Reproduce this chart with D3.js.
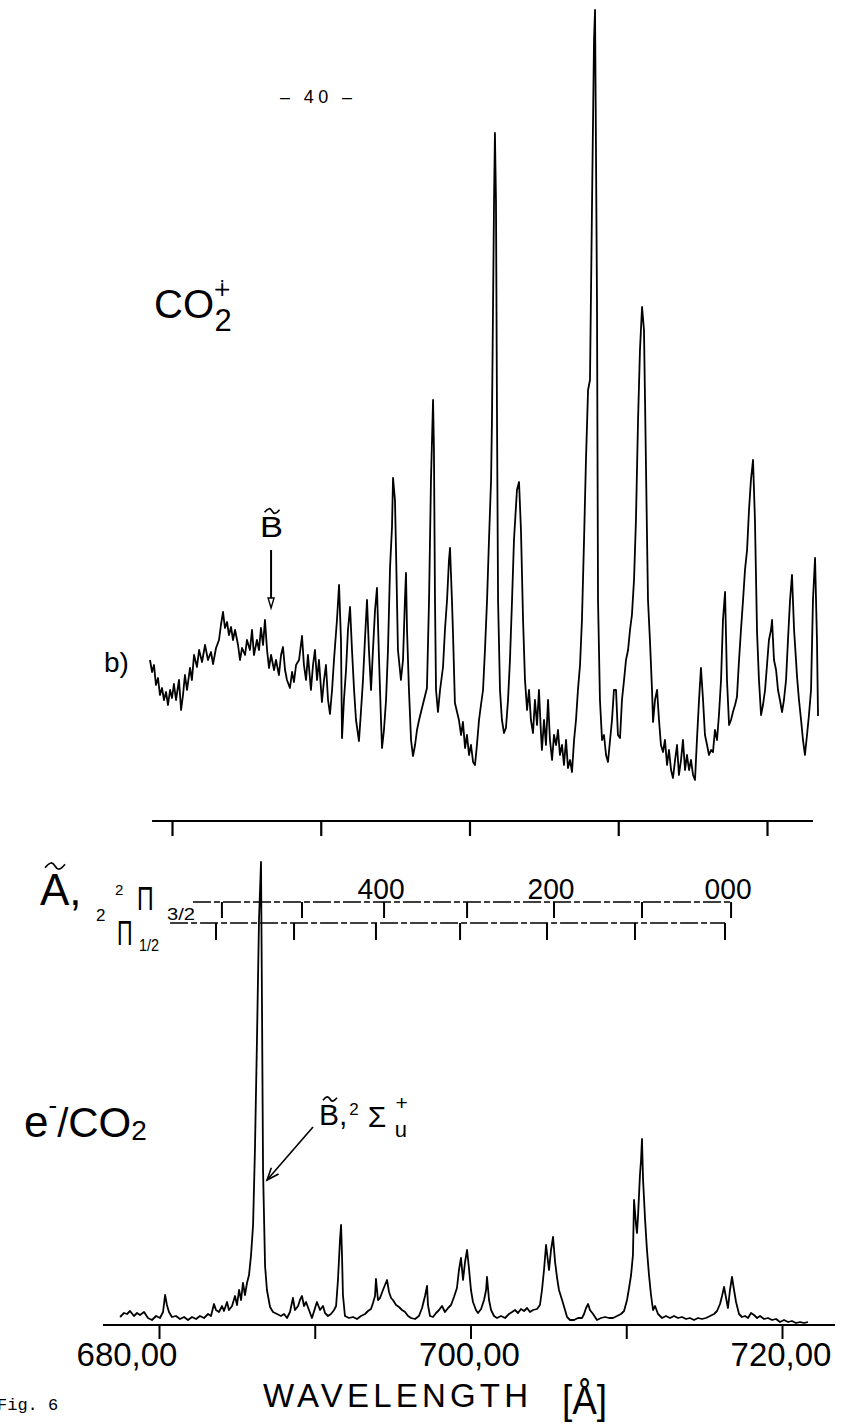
<!DOCTYPE html>
<html><head><meta charset="utf-8">
<script src="https://cdn.jsdelivr.net/npm/d3@7"></script>
<style>html,body{margin:0;padding:0;background:#fff;} svg{display:block;background:#fff;}</style>
</head><body>
<svg id="chart" width="852" height="1425"></svg>
<script>
// ---------- DATA ----------
// b) CO2+ fluorescence spectrum: [wavelength (Å), intensity (arb.)]
const topSpectrum = [[678.52,65],[678.66,59],[678.79,62.5],[678.92,52.5],[679.06,56],[679.19,47.5],[679.33,51],[679.46,45],[679.60,49],[679.73,42.5],[679.87,50],[680.00,46],[680.13,53],[680.27,45],[680.47,55],[680.61,40],[680.74,47.5],[680.87,57.5],[681.01,50],[681.21,61],[681.34,55],[681.48,67.5],[681.68,61.5],[681.82,70],[682.02,64],[682.22,72.5],[682.42,65],[682.62,69],[682.76,63],[682.96,71],[683.16,75],[683.29,82.5],[683.43,89],[683.56,81],[683.70,84],[683.83,77.5],[683.97,81.5],[684.10,75],[684.24,80],[684.44,72.5],[684.57,65],[684.71,71],[684.91,67.5],[685.04,75],[685.24,70],[685.38,80],[685.51,67.5],[685.71,75],[685.85,70],[685.98,81],[686.12,72.5],[686.25,85],[686.39,70],[686.52,61],[686.66,67.5],[686.86,60],[686.99,65],[687.19,57.5],[687.33,67.5],[687.46,71.5],[687.60,60],[687.73,55],[687.93,51],[688.07,59],[688.20,54],[688.34,62.5],[688.54,65],[688.74,77],[688.87,62.5],[689.01,55],[689.14,67.5],[689.34,50],[689.48,62.5],[689.61,70],[689.75,55],[689.88,65],[690.08,44],[690.22,55],[690.35,62.5],[690.49,45],[690.62,38],[690.76,50],[690.89,65],[691.09,85],[691.23,102.5],[691.36,75],[691.43,26],[691.56,45],[691.70,60],[691.83,80],[691.97,91.5],[692.10,70],[692.24,50],[692.37,35],[692.57,24.5],[692.71,40],[692.84,55],[692.97,75],[693.11,95],[693.24,70],[693.38,50],[693.51,70],[693.65,90],[693.78,101],[693.92,65],[694.05,35],[694.12,21],[694.25,30],[694.39,45],[694.52,70],[694.66,111.5],[694.79,131.5],[694.86,156],[694.99,145],[695.06,120],[695.19,70],[695.39,55],[695.53,65],[695.66,95],[695.73,108.5],[695.80,80],[695.93,50],[696.07,25],[696.20,17],[696.34,22.5],[696.47,30],[696.61,35],[696.74,39],[696.94,45],[697.14,51],[697.28,95],[697.41,155],[697.55,195],[697.61,170],[697.68,95],[697.75,50],[697.88,39],[698.02,50],[698.22,61.5],[698.35,80],[698.49,95],[698.62,115],[698.69,121],[698.82,95],[698.89,78.5],[699.02,43.5],[699.29,35],[699.43,27.5],[699.56,34],[699.70,21],[699.83,27.5],[699.97,17.5],[700.10,22.5],[700.24,14],[700.37,12.5],[700.50,22.5],[700.64,35],[700.77,42.5],[700.91,50],[701.04,70],[701.18,95],[701.31,125],[701.45,155],[701.51,185],[701.65,295],[701.71,328.5],[701.78,295],[701.85,185],[701.92,95],[702.05,50],[702.18,35],[702.32,28.5],[702.45,31],[702.59,45],[702.72,65],[702.86,95],[702.99,125],[703.19,150],[703.33,154],[703.46,130],[703.60,85],[703.73,55],[703.87,40],[704.00,50],[704.13,35],[704.27,28.5],[704.40,45],[704.54,32.5],[704.67,50],[704.81,27.5],[704.87,20],[705.01,35],[705.14,22.5],[705.28,45],[705.41,25],[705.55,15],[705.68,27.5],[705.82,22.5],[705.95,30],[706.08,17.5],[706.22,22.5],[706.35,12.5],[706.49,25],[706.62,11],[706.76,15],[706.89,9],[707.03,25],[707.16,35],[707.29,50],[707.43,62.5],[707.56,85],[707.70,125],[707.83,165],[707.97,200],[708.10,205],[708.24,295],[708.37,375],[708.44,390],[708.57,245],[708.64,95],[708.77,45],[708.91,25],[709.04,27.5],[709.18,17.5],[709.31,14],[709.45,25],[709.58,35],[709.71,50],[709.85,50],[709.98,27.5],[710.12,26],[710.25,45],[710.39,55],[710.52,65],[710.66,70],[710.79,80],[710.92,87.5],[711.06,105],[711.19,135],[711.33,185],[711.46,220],[711.60,241.5],[711.73,230],[711.80,195],[711.93,128.5],[712.00,95],[712.13,75],[712.27,50],[712.34,34],[712.47,45],[712.61,50],[712.74,35],[712.87,22.5],[713.01,19],[713.14,25],[713.28,12.5],[713.41,20],[713.55,10],[713.68,6],[713.82,15],[713.95,22.5],[714.08,7.5],[714.22,15],[714.35,25],[714.49,10],[714.62,17.5],[714.76,10],[714.89,15],[715.03,7.5],[715.16,5],[715.29,25],[715.43,45],[715.56,61],[715.70,45],[715.83,27.5],[715.97,22.5],[716.10,17.5],[716.24,20],[716.37,19],[716.50,30],[716.64,25],[716.77,37.5],[716.91,55],[717.04,85],[717.18,99],[717.31,55],[717.45,32.5],[717.58,35],[717.71,39],[717.85,42.5],[717.98,46.5],[718.12,65],[718.25,80],[718.39,95],[718.52,110],[718.66,120],[718.79,140],[718.92,155],[719.06,165],[719.19,135],[719.33,79],[719.46,55],[719.60,37.5],[719.73,42.5],[719.87,50],[720.00,62.5],[720.13,75],[720.27,80],[720.34,85],[720.47,65],[720.61,60],[720.74,50],[720.87,45],[721.01,39],[721.14,45],[721.28,55],[721.41,75],[721.55,95],[721.68,107.5],[721.82,80],[721.95,65],[722.02,56.5],[722.15,45],[722.29,35],[722.42,25],[722.55,17.5],[722.69,27.5],[722.82,37.5],[722.96,50],[723.09,95],[723.23,116],[723.36,75],[723.43,37]];

// e-/CO2 emission spectrum: [wavelength (Å), intensity (arb.)]
const bottomSpectrum = [[677.50,4],[677.75,6],[677.95,5.5],[678.14,7],[678.39,4.5],[678.59,6],[678.78,5],[679.04,6.5],[679.29,3.5],[679.55,2.5],[679.81,4.5],[680.06,3.5],[680.26,6.5],[680.39,15],[680.51,10],[680.64,6.5],[680.83,4],[681.09,4.5],[681.35,3],[681.61,4],[681.86,2.5],[682.12,4],[682.38,3],[682.63,4.5],[682.89,3.5],[683.15,5.5],[683.34,4.5],[683.53,10.5],[683.66,7.5],[683.85,6.5],[684.05,9.5],[684.17,7],[684.37,11.5],[684.49,7.5],[684.69,9.5],[684.88,14.5],[685.01,10],[685.14,17.5],[685.27,12.5],[685.39,21],[685.52,15],[685.65,21],[685.78,25],[685.91,35],[686.04,50],[686.16,87.5],[686.29,142.5],[686.42,202.5],[686.55,231.5],[686.61,162.5],[686.68,77.5],[686.81,29.5],[686.93,17.5],[687.13,9],[687.32,6.5],[687.58,5.5],[687.83,4.5],[688.03,5.5],[688.22,3.5],[688.41,6.5],[688.60,13.5],[688.73,7.5],[688.93,9.5],[689.05,12.5],[689.18,14.5],[689.31,9.5],[689.44,11.5],[689.63,7.5],[689.82,3.5],[690.02,8.5],[690.14,11.5],[690.34,7.5],[690.53,9.5],[690.66,6],[690.85,4.5],[691.04,5.5],[691.24,7.5],[691.37,9.5],[691.49,22.5],[691.62,42.5],[691.69,50],[691.75,35],[691.81,15],[691.94,4.5],[692.20,3.5],[692.46,4],[692.71,3],[692.97,4.5],[693.23,5.5],[693.42,7],[693.61,8],[693.74,11],[693.87,14.5],[693.93,23],[694.06,12.5],[694.19,13.5],[694.38,17.5],[694.51,20],[694.64,22.5],[694.77,16.5],[694.90,13.5],[695.02,12.5],[695.22,10],[695.41,9],[695.60,7.5],[695.80,6.5],[695.99,4.5],[696.18,3.5],[696.44,3],[696.69,4.5],[696.89,8.5],[697.08,14.5],[697.21,19.5],[697.27,10],[697.40,4.5],[697.59,4],[697.79,6],[697.98,7.5],[698.17,9.5],[698.36,6.5],[698.56,8.5],[698.75,10],[698.94,14],[699.13,18.5],[699.26,27.5],[699.39,33.5],[699.52,22.5],[699.65,31.5],[699.78,37.5],[699.90,28.5],[700.03,17.5],[700.16,11.5],[700.35,7.5],[700.48,6],[700.68,8],[700.87,12.5],[701.00,17.5],[701.06,24],[701.19,12.5],[701.32,7.5],[701.51,4.5],[701.70,3.5],[701.96,4.5],[702.22,3.5],[702.47,5.5],[702.67,6.5],[702.86,7.5],[703.05,6],[703.24,8],[703.44,7],[703.63,8.5],[703.82,6.5],[704.01,7.5],[704.27,8],[704.46,10],[704.59,17.5],[704.72,27.5],[704.85,40],[704.98,31.5],[705.04,27.5],[705.17,37.5],[705.30,44],[705.43,31.5],[705.56,23.5],[705.68,17.5],[705.88,12.5],[706.07,7.5],[706.20,4],[706.39,2.5],[706.65,2.5],[706.90,3.5],[707.16,3.5],[707.29,5.5],[707.42,8.5],[707.55,10.5],[707.67,7.5],[707.87,5.5],[708.12,2.5],[708.38,3.5],[708.64,4],[708.89,3.5],[709.15,3.5],[709.41,4.5],[709.66,5.5],[709.86,7],[710.05,12.5],[710.18,18.5],[710.31,25],[710.43,35],[710.50,62.5],[710.63,50],[710.69,46],[710.76,55],[710.88,75],[710.95,82.5],[711.01,93],[711.08,72.5],[711.21,52.5],[711.33,37.5],[711.46,25],[711.59,15],[711.72,7.5],[711.85,9.5],[712.04,5.5],[712.30,3.5],[712.55,4.5],[712.81,3.5],[713.07,4.5],[713.32,3.5],[713.58,4],[713.84,3],[714.09,3.5],[714.35,2.5],[714.61,3.5],[714.86,3],[715.12,3.5],[715.38,4.5],[715.64,5.5],[715.83,7],[716.02,10.5],[716.15,14.5],[716.28,19],[716.41,13.5],[716.53,8.5],[716.66,17.5],[716.79,24],[716.92,17.5],[717.05,11.5],[717.24,5.5],[717.43,4],[717.63,4.5],[717.82,3.5],[718.01,6],[718.20,5],[718.40,3.5],[718.59,4.5],[718.85,3],[719.10,3.5],[719.36,2.5],[719.62,3],[719.87,1.5],[720.13,2.5],[720.39,1.5],[720.64,2],[720.90,1],[721.16,1.5],[721.41,1],[721.67,1.5]];

const axisTicks = [680, 690, 700, 710, 720];
const bottomLabelValues = [680, 700, 720];
const bottomLabelTexts = ["680,00", "700,00", "720,00"];
const topAxisExtent = [678.66, 723.09];
const bottomAxisExtent = [676.40, 723.40];

// Ã 2Π vibrational progressions (Å)
const vibLevels = ["600", "500", "400", "300", "200", "100", "000"];
const vibShown = ["400", "200", "000"];
const pi32Positions = [684.04, 689.18, 694.45, 699.78, 705.36, 711.01, 716.73];
const pi12Positions = [683.66, 688.67, 693.93, 699.33, 704.91, 710.56, 716.34];
const pi32Start = 682.18;
const pi12Start = 680.71;

const bArrowTop = 686.66;     // B̃ marker on CO2+ spectrum
const bPeakBottom = 686.68;   // B̃ 2Σu+ peak

// ---------- SCALES ----------
const svg = d3.select("#chart");
const SANS = "'Liberation Sans', Arial, sans-serif";
const xTop = d3.scaleLinear().domain([680, 720]).range([172, 767]);
const yTop = d3.scaleLinear().domain([0, 390]).range([790, 10]);
const xBot = d3.scaleLinear().domain([680, 720]).range([159, 782]);
const yBot = d3.scaleLinear().domain([0, 232.5]).range([1325, 860]);

svg.append("rect").attr("width", 852).attr("height", 1425).attr("fill", "#fff");

// ---------- SPECTRA ----------
svg.append("path").datum(topSpectrum)
  .attr("fill", "none").attr("stroke", "#000").attr("stroke-width", 1.8)
  .attr("stroke-linejoin", "round")
  .attr("d", d3.line().x(d => xTop(d[0])).y(d => yTop(d[1])));

svg.append("path").datum(bottomSpectrum)
  .attr("fill", "none").attr("stroke", "#000").attr("stroke-width", 1.8)
  .attr("stroke-linejoin", "round")
  .attr("d", d3.line().x(d => xBot(d[0])).y(d => yBot(d[1])));

// ---------- AXES ----------
const topAxisY = 821, botAxisY = 1325;
svg.append("line").attr("x1", xTop(topAxisExtent[0])).attr("x2", xTop(topAxisExtent[1]))
  .attr("y1", topAxisY).attr("y2", topAxisY).attr("stroke", "#000").attr("stroke-width", 2.2);
const gTop = svg.append("g").attr("transform", `translate(0,${topAxisY})`)
  .call(d3.axisBottom(xTop).tickValues(axisTicks).tickSize(15).tickSizeOuter(0).tickFormat(""));
gTop.select(".domain").remove();
gTop.selectAll(".tick line").attr("stroke", "#000").attr("stroke-width", 2.2);

svg.append("line").attr("x1", xBot(bottomAxisExtent[0])).attr("x2", xBot(bottomAxisExtent[1]))
  .attr("y1", botAxisY).attr("y2", botAxisY).attr("stroke", "#000").attr("stroke-width", 2);
const gBot = svg.append("g").attr("transform", `translate(0,${botAxisY})`)
  .call(d3.axisBottom(xBot).tickValues(axisTicks).tickSize(14).tickSizeOuter(0).tickFormat(""));
gBot.select(".domain").remove();
gBot.selectAll(".tick line").attr("stroke", "#000").attr("stroke-width", 2);

svg.selectAll("text.xlab").data(bottomLabelValues).enter().append("text")
  .attr("class", "xlab")
  .attr("x", d => xBot(d)).attr("dx", (d, i) => i === 0 ? -32 : -1)
  .attr("y", 1366).attr("text-anchor", "middle")
  .attr("font-family", SANS).attr("font-size", 33)
  .text((d, i) => bottomLabelTexts[i]);

svg.append("text").attr("x", 263).attr("y", 1407)
  .attr("font-family", SANS).attr("font-size", 33)
  .attr("textLength", 265).attr("lengthAdjust", "spacing").text("WAVELENGTH");
svg.append("text").attr("x", 562).attr("y", 1414)
  .attr("font-family", SANS).attr("font-size", 40)
  .attr("textLength", 45).attr("lengthAdjust", "spacingAndGlyphs").text("[Å]");

// ---------- Ã 2Π PROGRESSIONS ----------
const pi32Y = 902, pi12Y = 923;
svg.append("line").attr("x1", xBot(pi32Start)).attr("x2", xBot(pi32Positions[6]))
  .attr("y1", pi32Y).attr("y2", pi32Y).attr("stroke", "#000").attr("stroke-width", 1.6)
  .attr("stroke-dasharray", "18,3,6,3");
svg.append("line").attr("x1", xBot(pi12Start)).attr("x2", xBot(pi12Positions[6]))
  .attr("y1", pi12Y).attr("y2", pi12Y).attr("stroke", "#000").attr("stroke-width", 1.6)
  .attr("stroke-dasharray", "18,3,6,3");
svg.selectAll("line.t32").data(pi32Positions).enter().append("line").attr("class", "t32")
  .attr("x1", d => xBot(d)).attr("x2", d => xBot(d))
  .attr("y1", pi32Y).attr("y2", pi32Y + 16).attr("stroke", "#000").attr("stroke-width", 2);
svg.selectAll("line.t12").data(pi12Positions).enter().append("line").attr("class", "t12")
  .attr("x1", d => xBot(d)).attr("x2", d => xBot(d))
  .attr("y1", pi12Y).attr("y2", pi12Y + 17).attr("stroke", "#000").attr("stroke-width", 2);
svg.selectAll("text.vib").data(pi32Positions.filter((d, i) => vibShown.includes(vibLevels[i])))
  .enter().append("text").attr("class", "vib")
  .attr("x", d => xBot(d) - 3).attr("y", 899).attr("text-anchor", "middle")
  .attr("font-family", SANS).attr("font-size", 29)
  .attr("textLength", 47).attr("lengthAdjust", "spacingAndGlyphs")
  .text(d => vibLevels[pi32Positions.indexOf(d)]);

// helpers
function txt(x, y, s, size, extra) {
  const t = svg.append("text").attr("x", x).attr("y", y).attr("font-family", SANS)
    .attr("font-size", size).text(s);
  if (extra) extra(t);
  return t;
}
function tilde(cx, cy, w) {
  const h = w * 0.22;
  svg.append("path")
    .attr("d", `M${cx - w / 2},${cy + h * 0.4} C${cx - w / 4},${cy - h} ${cx - w / 8},${cy - h} ${cx},${cy} S${cx + w / 4},${cy + h} ${cx + w / 2},${cy - h * 0.4}`)
    .attr("fill", "none").attr("stroke", "#000").attr("stroke-width", 1.6);
}
function narrow(x, y, s, size, sx) {
  return svg.append("text").attr("transform", `translate(${x},${y}) scale(${sx},1)`)
    .attr("font-family", SANS).attr("font-size", size).text(s);
}

// state labels Ã, 2Π3/2, 2Π1/2
txt(40, 905, "A,", 44);
tilde(55, 866, 20);
txt(115, 895, "2", 15);
narrow(137, 910, "Π", 34, 0.68);
txt(167, 920, "3/2", 17, t => t.attr("textLength", 28).attr("lengthAdjust", "spacingAndGlyphs"));
txt(96, 921, "2", 17);
narrow(117, 945, "Π", 36, 0.6);
txt(139, 951, "1/2", 16, t => t.attr("textLength", 20).attr("lengthAdjust", "spacingAndGlyphs"));

// ---------- TOP LABELS ----------
txt(280, 103, "– 40 –", 18, t => t.attr("textLength", 72).attr("lengthAdjust", "spacing"));
{
  const t = svg.append("text").attr("x", 154).attr("y", 318).attr("font-family", SANS).attr("font-size", 40);
  t.append("tspan").text("CO");
  t.append("tspan").attr("dx", -1).attr("dy", -22).attr("font-size", 22)
    .attr("font-family", "'DejaVu Sans', sans-serif").text("∔");
  t.append("tspan").attr("dx", -17).attr("dy", 35).attr("font-size", 31).text("2");
}
txt(104, 672, "b)", 28);

// B̃ marker with arrow (top)
const bx = xTop(bArrowTop);
txt(bx - 11, 537, "B", 30, t => t.attr("textLength", 23).attr("lengthAdjust", "spacingAndGlyphs"));
tilde(bx + 1, 511, 15);
svg.append("line").attr("x1", bx).attr("x2", bx).attr("y1", 550).attr("y2", 599)
  .attr("stroke", "#000").attr("stroke-width", 2);
svg.append("path").attr("d", `M${bx - 3},598 L${bx + 3},598 L${bx},608 Z`)
  .attr("fill", "#fff").attr("stroke", "#000").attr("stroke-width", 1.4);

// ---------- BOTTOM LABELS ----------
{
  const t = svg.append("text").attr("x", 24).attr("y", 1137).attr("font-family", SANS).attr("font-size", 44);
  t.append("tspan").text("e");
  t.append("tspan").attr("dy", -23).attr("font-size", 26).text("-");
  t.append("tspan").attr("dy", 23).attr("font-size", 40).text("/");
  t.append("tspan").attr("font-size", 42).text("CO");
  t.append("tspan").attr("dy", 3).attr("font-size", 28).text("2");
}
{
  const t = svg.append("text").attr("x", 319).attr("y", 1125).attr("font-family", SANS).attr("font-size", 30);
  t.append("tspan").text("B,");
  t.append("tspan").attr("dx", 2).attr("dy", -10).attr("font-size", 17).text("2");
  t.append("tspan").attr("dx", 9).attr("dy", 12).attr("font-size", 30).text("Σ");
  t.append("tspan").attr("dx", 9).attr("dy", -17).attr("font-size", 21).text("+");
  t.append("tspan").attr("dx", -13).attr("dy", 27).attr("font-size", 22).text("u");
}
tilde(330, 1099, 14);

// arrow to B̃ 2Σu+ peak
const tipX = xBot(bPeakBottom) + 4, tipY = 1180;
const sx = 313, sy = 1127;
svg.append("line").attr("x1", sx).attr("y1", sy).attr("x2", tipX).attr("y2", tipY)
  .attr("stroke", "#000").attr("stroke-width", 1.6);
{
  const ang = Math.atan2(sy - tipY, sx - tipX);
  const L = 13, a = 0.38;
  const p1 = [tipX + L * Math.cos(ang + a), tipY + L * Math.sin(ang + a)];
  const p2 = [tipX + L * Math.cos(ang - a), tipY + L * Math.sin(ang - a)];
  svg.append("path").attr("d", `M${p1[0]},${p1[1]} L${tipX},${tipY} L${p2[0]},${p2[1]}`)
    .attr("fill", "none").attr("stroke", "#000").attr("stroke-width", 1.6);
}

svg.append("text").attr("x", -3).attr("y", 1410)
  .attr("font-family", "'Liberation Mono', 'DejaVu Sans Mono', monospace")
  .attr("font-size", 17).text("Fig. 6");
</script>
</body></html>
